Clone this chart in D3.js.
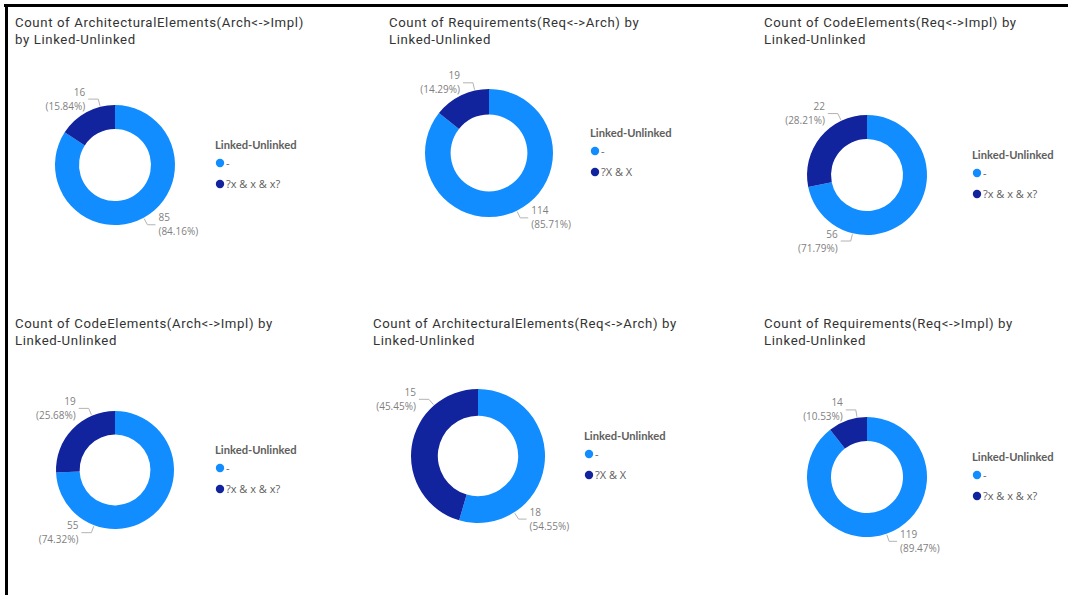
<!DOCTYPE html>
<html>
<head>
<meta charset="utf-8">
<script src="https://cdn.jsdelivr.net/npm/d3@7"></script>
<style>
  html, body { margin: 0; padding: 0; background: #fff; }
  svg { display: block; }
</style>
</head>
<body>
<svg id="chart" width="1068" height="595"></svg>
<script>
// ---------- DATA ----------
const titleLine1 = [
  "Count of ArchitecturalElements(Arch<->Impl)",
  "Count of Requirements(Req<->Arch) by",
  "Count of CodeElements(Req<->Impl) by",
  "Count of CodeElements(Arch<->Impl) by",
  "Count of ArchitecturalElements(Req<->Arch) by",
  "Count of Requirements(Req<->Impl) by"
];
const titleLine2 = [
  "by Linked-Unlinked",
  "Linked-Unlinked",
  "Linked-Unlinked",
  "Linked-Unlinked",
  "Linked-Unlinked",
  "Linked-Unlinked"
];
const legendTitle = "Linked-Unlinked";
const linkedCategory = "-";
const unlinkedCategory = ["?x & x & x?", "?X & X", "?x & x & x?", "?x & x & x?", "?X & X", "?x & x & x?"];
const linkedCounts   = [85, 114, 56, 55, 18, 119];
const unlinkedCounts = [16, 19, 22, 19, 15, 14];

// ---------- LAYOUT (positions / sizes) ----------
const titleX   = [15, 389, 764, 15, 373, 764];
const titleY   = [27, 27, 27, 328, 328, 328];
const centerX  = [115, 489, 867, 115, 478, 867];
const centerY  = [165, 153, 175, 470, 456, 477];
const outerR   = [60, 64, 60, 59, 67, 60];
const legendX  = [215, 590, 972, 215, 584, 972];

const colors = ["#118DFF", "#12239E"];

const svg = d3.select("#chart");

// frame
svg.append("line").attr("x1", 4).attr("x2", 1068).attr("y1", 5.5).attr("y2", 5.5)
  .attr("stroke", "#000").attr("stroke-width", 3);
svg.append("line").attr("x1", 6.5).attr("x2", 6.5).attr("y1", 4).attr("y2", 595)
  .attr("stroke", "#000").attr("stroke-width", 3);

const pie = d3.pie().sort(null).value(d => d.value);
const fmtPct = d3.format(".2f");

for (let i = 0; i < 6; i++) {
  const data = [
    { cat: linkedCategory, value: linkedCounts[i] },
    { cat: unlinkedCategory[i], value: unlinkedCounts[i] }
  ];
  const total = d3.sum(data, d => d.value);
  const color = d3.scaleOrdinal().domain(data.map(d => d.cat)).range(colors);
  const R = outerR[i], r = R * 0.6;
  const arc = d3.arc().innerRadius(r).outerRadius(R);

  // title
  const t = svg.append("text")
    .attr("x", titleX[i]).attr("y", titleY[i])
    .attr("font-family", "Roboto, 'DejaVu Sans', sans-serif")
    .attr("font-size", 13.2).attr("letter-spacing", 0.62).attr("fill", "#333333");
  t.append("tspan").attr("x", titleX[i]).attr("dy", 0).text(titleLine1[i]);
  t.append("tspan").attr("x", titleX[i]).attr("dy", 17).text(titleLine2[i]);

  const g = svg.append("g").attr("transform", `translate(${centerX[i]},${centerY[i]})`);
  const arcs = pie(data);
  g.selectAll("path.slice").data(arcs).join("path")
    .attr("class", "slice")
    .attr("d", arc)
    .attr("fill", d => color(d.data.cat));

  // data labels with leader lines
  arcs.forEach((a, k) => {
    const span = a.endAngle - a.startAngle;
    const mid = (a.startAngle + a.endAngle) / 2;
    let ang;
    if (k === arcs.length - 1) {
      ang = a.endAngle - 0.25 * span;
    } else {
      ang = (mid > 140 * Math.PI / 180) ? mid : a.startAngle + 0.75 * span;
    }
    const px = (R + 1) * Math.sin(ang), py = -(R + 1) * Math.cos(ang);
    const kx = (R + 8) * Math.sin(ang), ky = -(R + 8) * Math.cos(ang);
    const right = Math.sin(ang) > 0;
    const hx = kx + (right ? 8 : -10);
    g.append("polyline")
      .attr("points", [[px, py], [kx, ky], [hx, ky]].map(p => p.join(",")).join(" "))
      .attr("fill", "none").attr("stroke", "#b3b3b3").attr("stroke-width", 1);
    const lx = hx + (right ? 3 : -3);
    const lbl = g.append("text")
      .attr("font-family", "'Open Sans', sans-serif")
      .attr("font-size", 10).attr("fill", "#7f7f7f")
      .attr("text-anchor", right ? "start" : "end");
    lbl.append("tspan").attr("x", lx).attr("y", ky - 3.5).text(a.data.value);
    lbl.append("tspan").attr("x", lx).attr("y", ky + 10.5)
      .text("(" + fmtPct(a.data.value / total * 100) + "%)");
  });

  // legend
  const lg = svg.append("g").attr("transform", `translate(${legendX[i]},${centerY[i] - 20})`);
  lg.append("text").attr("x", 0).attr("y", 4)
    .attr("font-family", "Lato, 'Open Sans', sans-serif")
    .attr("font-weight", "bold").attr("font-size", 11.2).attr("fill", "#605E5C")
    .text(legendTitle);
  const items = lg.selectAll("g.item").data(data).join("g")
    .attr("class", "item")
    .attr("transform", (d, j) => `translate(0,${18 + j * 21})`);
  items.append("circle").attr("cx", 5).attr("cy", 0).attr("r", 4.2)
    .attr("fill", d => color(d.cat));
  items.append("text").attr("x", 11).attr("y", 4)
    .attr("font-family", "'Open Sans', sans-serif")
    .attr("font-size", 11).attr("fill", "#605E5C")
    .text(d => d.cat);
}
</script>
</body>
</html>
